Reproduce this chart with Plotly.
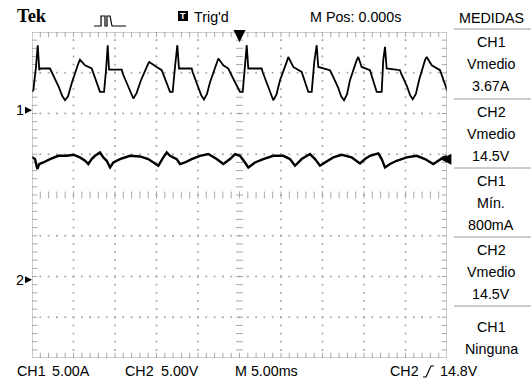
import numpy as np
import plotly.graph_objects as go

# CH1: current in A, time in ms (M Pos 0.000 s at screen centre)
ch1_t = [-25.04, -24.84, -24.52, -24.31, -24.12, -24.03, -22.83, -22.63, -21.81, -21.35, -21.02,
         -20.66, -20.18, -19.42, -19.22, -18.61, -17.81, -16.81, -16.32, -16.08, -15.88, -15.72,
         -14.19, -14.07, -13.43, -13.05, -12.79, -12.40, -11.87, -10.99, -10.87, -9.98, -9.37, -8.37,
         -8.05, -7.77, -7.49, -7.29, -5.76, -5.64, -5.00, -4.62, -4.28, -3.92, -3.55, -2.75,
         -2.55, -1.95, -1.35, -0.66, 0.06, 0.39, 0.66, 0.87, 1.06, 2.67,
         2.80, 3.43, 3.80, 4.07, 4.45, 4.88, 5.69, 5.88, 6.48, 7.49, 8.29, 8.70,
         9.01, 9.30, 9.49, 10.90, 11.11, 11.87, 12.25, 12.59, 12.95, 13.31, 14.12, 14.31,
         14.72, 15.72, 16.53, 17.13, 17.32, 17.53, 17.73, 19.34, 19.46, 20.18,
         20.55, 20.87, 21.25, 21.63, 22.35, 22.55, 23.16, 24.16, 25.08]
ch1_a = [2.25, 2.45, 5.31, 7.98, 4.91, 5.12, 5.12, 4.70, 2.94, 1.75, 1.23,
         1.72, 3.44, 5.73, 6.22, 5.52, 5.12, 2.25, 2.25, 4.91, 7.98, 4.99,
         4.99, 4.50, 2.94, 1.95, 1.44, 2.10, 3.68, 5.73, 5.93, 5.31, 4.91, 2.25,
         2.25, 5.31, 7.98, 5.12, 5.12, 4.66, 2.94, 1.85, 1.31, 2.00, 3.44, 5.73,
         6.34, 5.52, 5.12, 3.68, 2.25, 2.25, 5.31, 7.98, 5.12, 5.12,
         4.66, 2.94, 1.75, 1.23, 1.90, 3.68, 5.93, 6.54, 5.31, 4.70, 2.25, 2.25,
         5.93, 7.98, 5.31, 4.91, 4.50, 2.82, 1.72, 1.23, 1.95, 3.68, 6.14, 6.54,
         5.31, 4.91, 2.25, 2.25, 6.14, 7.77, 5.12, 4.91, 4.54, 2.94,
         1.85, 1.35, 2.00, 3.68, 6.14, 6.54, 5.52, 4.91, 2.25]

# CH2: voltage in V
ch2_t = [-25.24, -24.91, -24.64, -24.36, -24.12, -23.64, -22.83, -21.83, -20.82, -20.02,
         -19.22, -18.61, -18.22, -17.81, -17.41, -16.81, -16.41, -16.00, -15.60, -15.20,
         -14.40, -13.19, -11.99, -10.99, -10.18, -9.78, -9.18, -8.77, -8.37, -7.57,
         -7.17, -6.57, -5.76, -4.76, -3.76, -2.75, -1.95, -1.14, -0.54, 0.06,
         0.66, 1.06, 1.87, 2.87, 4.07, 5.28, 6.08, 6.69, 7.49, 8.10,
         8.49, 9.10, 9.70, 10.30, 11.30, 12.31, 13.52, 14.52, 15.12, 15.72,
         16.72, 17.13, 17.53, 18.13, 18.94, 20.14, 21.35, 22.35, 23.35, 23.95,
         24.55, 25.16]
ch2_v = [15.21, 15.01, 14.81, 13.58, 14.20, 14.39, 14.81, 15.21, 15.21, 15.34,
         15.01, 14.60, 14.20, 14.81, 15.21, 15.62, 15.01, 14.60, 13.78, 14.39,
         14.81, 15.21, 15.13, 14.81, 14.20, 13.99, 15.01, 15.62, 15.21, 14.81,
         14.20, 14.39, 14.81, 15.21, 15.42, 14.81, 14.20, 14.81, 15.42, 15.21,
         14.39, 13.78, 14.39, 14.81, 15.21, 15.21, 14.81, 13.99, 14.81, 15.21,
         15.42, 14.81, 13.99, 14.39, 15.01, 15.34, 15.01, 14.27, 14.81, 15.21,
         15.50, 14.81, 13.78, 14.20, 14.60, 15.01, 15.21, 14.81, 14.20, 14.60,
         15.01, 15.21]

# screen read-outs
header = {"trig": "Trig'd", "mpos": "M Pos: 0.000s", "menu": "MEDIDAS"}
bottom_labels = ["CH1", "5.00A", "CH2", "5.00V", "M 5.00ms", "CH2", "14.8V"]
menu_boxes = [["CH1", "Vmedio", "3.67A"],
              ["CH2", "Vmedio", "14.5V"],
              ["CH1", "Mín.", "800mA"],
              ["CH2", "Vmedio", "14.5V"],
              ["CH1", "Ninguna"]]
trig_level_v = 14.8

# ---------------- layout helpers ----------------
W, H = 531, 382
L, R, T, B = 32, 447, 32, 358
def px(x):
    return (x - L) / (R - L)
def py(y):
    return (B - y) / (B - T)

CH1_POS = 2.08   # divisions above centre
CH2_POS = -2.08
CH1_SCALE = 5.0  # A/div
CH2_SCALE = 5.0  # V/div
FONT = "Liberation Sans, Arial, sans-serif"
FS = 14.3
GRID = "#a9a9a9"

fig = go.Figure()

# graticule dots
gx, gy = [], []
for yd in [-3, -2, -1, 1, 2, 3]:
    for xs in np.arange(-24, 25, 1):
        gx.append(xs); gy.append(yd)
for xd in [-20, -15, -10, -5, 5, 10, 15, 20]:
    for ys in np.arange(-3.8, 3.81, 0.2):
        gx.append(xd); gy.append(ys)
fig.add_trace(go.Scatter(x=gx, y=gy, mode="markers", hoverinfo="skip",
                         marker=dict(symbol="square", size=1.8, color=GRID, line=dict(width=0))))
# centre-line ticks
fig.add_trace(go.Scatter(x=list(np.arange(-24, 25, 1)), y=[0] * 49, mode="markers", hoverinfo="skip",
                         marker=dict(symbol="line-ns", size=5, line=dict(width=1, color=GRID))))
cy = list(np.arange(-3.8, 3.81, 0.2))
fig.add_trace(go.Scatter(x=[0] * len(cy), y=cy, mode="markers", hoverinfo="skip",
                         marker=dict(symbol="line-ew", size=5, line=dict(width=1, color=GRID))))
# border ticks
bx = list(np.arange(-24, 25, 1))
fig.add_trace(go.Scatter(x=bx + bx, y=[3.94] * len(bx) + [-3.94] * len(bx), mode="markers",
                         hoverinfo="skip",
                         marker=dict(symbol="line-ns", size=4, line=dict(width=1, color=GRID))))
fig.add_trace(go.Scatter(x=[-24.7] * len(cy) + [24.7] * len(cy), y=cy + cy, mode="markers",
                         hoverinfo="skip",
                         marker=dict(symbol="line-ew", size=4, line=dict(width=1, color=GRID))))

# waveforms
fig.add_trace(go.Scatter(x=ch1_t, y=ch1_a, yaxis="y2", mode="lines", hoverinfo="skip",
                         line=dict(color="black", width=1.8)))
fig.add_trace(go.Scatter(x=ch2_t, y=ch2_v, yaxis="y3", mode="lines", hoverinfo="skip",
                         line=dict(color="black", width=2.4)))

shapes = [dict(type="rect", xref="x", yref="y", x0=-25, x1=25, y0=-4, y1=4,
               line=dict(color="#9a9a9a", width=1))]
ann = []
def text(x, y, s, size=FS, anchor="left", color="black", family=FONT, bold=False):
    if bold:
        s = "<b>" + s + "</b>"
    ann.append(dict(x=px(x), y=py(y), xref="paper", yref="paper", text=s, showarrow=False,
                    xanchor=anchor, yanchor="middle",
                    font=dict(size=size, color=color, family=family)))

# header
text(15, 16, "Tek", size=18.5, family="Liberation Serif, serif", bold=True)
pulse = [(94, 26), (101, 26), (101, 16), (105, 16), (105, 26), (107, 26), (107, 16),
         (110, 16), (112, 26), (126, 26)]
path = "M " + " L ".join(f"{px(a):.4f},{py(b):.4f}" for a, b in pulse)
shapes.append(dict(type="path", xref="paper", yref="paper", path=path,
                   line=dict(color="black", width=1.2)))
shapes.append(dict(type="rect", xref="paper", yref="paper", x0=px(178), x1=px(188),
                   y0=py(21), y1=py(11), fillcolor="black", line=dict(width=0)))
text(183, 16.5, "<b>T</b>", size=9, anchor="center", color="white")
text(192, 17, header["trig"])
text(308, 17, header["mpos"])
text(491, 18, header["menu"], anchor="center")

# bottom row
xs_bottom = [15, 50, 123, 159, 233, 388, 438]
for xb, s in zip(xs_bottom, bottom_labels):
    text(xb, 371, s)
edge = [(423, 377), (426, 377), (431, 366), (434, 366)]
shapes.append(dict(type="path", xref="paper", yref="paper",
                   path="M " + " L ".join(f"{px(a):.4f},{py(b):.4f}" for a, b in edge),
                   line=dict(color="black", width=1.2)))

# measurement menu
seps = [29, 99, 168, 237, 306]
for s in seps:
    shapes.append(dict(type="line", xref="paper", yref="paper", x0=px(454), x1=px(531),
                       y0=py(s), y1=py(s), line=dict(color="#9a9a9a", width=1)))
box_top = [29, 99, 168, 237, 306]
box_h = [70, 69, 69, 69, 64]
for top, h, lines in zip(box_top, box_h, menu_boxes):
    mid = top + h / 2
    n = len(lines)
    for k, s in enumerate(lines):
        text(491, mid + (k - (n - 1) / 2) * 22, s, anchor="center")

# ground markers
for lab, lev in [("1", CH1_POS), ("2", CH2_POS)]:
    ann.append(dict(x=-25, y=lev, xref="x", yref="y", text=lab, showarrow=True,
                    ax=-12, ay=0, arrowhead=2, arrowsize=1, arrowwidth=1.4, arrowcolor="black",
                    font=dict(size=FS, family=FONT, color="black")))
# trigger position (top) and trigger level (right)
ann.append(dict(x=0, y=3.75, xref="x", yref="y", text="", showarrow=True, ax=0, ay=-9,
                arrowhead=2, arrowsize=1.1, arrowwidth=2.2, arrowcolor="black"))
ann.append(dict(x=24.2, y=trig_level_v, xref="x", yref="y3", text="", showarrow=True, ax=8, ay=0,
                arrowhead=2, arrowsize=1.1, arrowwidth=2.0, arrowcolor="black"))

fig.update_layout(
    width=W, height=H, margin=dict(l=L, r=W - R, t=T, b=H - B, pad=0, autoexpand=False),
    paper_bgcolor="white", plot_bgcolor="white", showlegend=False,
    xaxis=dict(range=[-25, 25], visible=False, fixedrange=True),
    yaxis=dict(range=[-4, 4], visible=False, fixedrange=True),
    yaxis2=dict(range=[(-4 - CH1_POS) * CH1_SCALE, (4 - CH1_POS) * CH1_SCALE],
                overlaying="y", visible=False, fixedrange=True),
    yaxis3=dict(range=[(-4 - CH2_POS) * CH2_SCALE, (4 - CH2_POS) * CH2_SCALE],
                overlaying="y", visible=False, fixedrange=True),
    shapes=shapes, annotations=ann,
)
fig.write_html("out.html", config={"displayModeBar": False, "staticPlot": True},
               post_script="document.body.style.margin='0';document.body.style.padding='0';")
